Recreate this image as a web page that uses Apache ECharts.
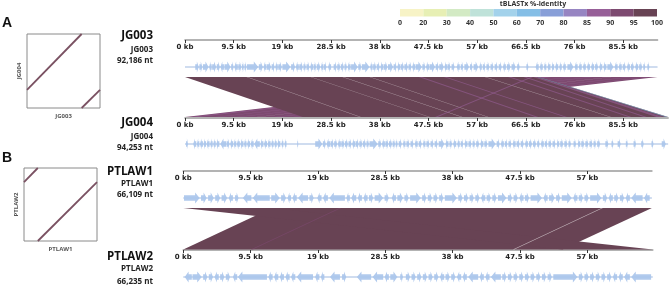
<!DOCTYPE html>
<html><head><meta charset="utf-8">
<script src="https://cdn.jsdelivr.net/npm/echarts@6/dist/echarts.min.js"></script>
<style>html,body{margin:0;padding:0;background:#fff}#c{width:669px;height:287px}</style>
</head><body><div id="c"></div>
<script>
// ---------------- DATA ----------------
const genomeNames = ['JG003', 'JG004', 'PTLAW1', 'PTLAW2'];
const genomeLengths = [92.186, 94.253, 66.109, 66.235]; // kb
const genomeLengthLabels = ['92,186 nt', '94,253 nt', '66,109 nt', '66,235 nt'];
const panelLabels = ['A', 'B'];
const rulerTicksA = [0, 9.5, 19, 28.5, 38, 47.5, 57, 66.5, 76, 85.5];
const rulerTicksB = [0, 9.5, 19, 28.5, 38, 47.5, 57];
const identityBreaks = [0, 20, 30, 40, 50, 60, 70, 80, 85, 90, 95, 100];
const identityColors = ['#f7f3c6', '#e7efb4', '#d3eac4', '#bfe2d9', '#a3d2eb', '#84bee6', '#889fd8', '#9785c2', '#975f98', '#7d4a70', '#684354'];
const legendTitle = 'tBLASTx %-identity';

// alignments: [queryStart, queryEnd, subjectStart, subjectEnd, %identity] (kb)
const alignA = [[69, 92.186, 0, 23, 91], [0, 69, 23, 94.253, 97]];
const streaksA2 = [[70, 71.5, 1, 2.5, 86], [75, 75.6, 6, 6.6, 87], [79, 79.6, 10, 10.6, 86], [83, 83.2, 14, 14.2, 0], [86.5, 87.2, 17.5, 18.2, 86], [90, 90.6, 21, 21.6, 86]];
const streaksA1 = [[12.0, 12.2, 34.1, 34.3, 0], [30.7, 30.9, 53.9, 54.1, 0], [45.6, 46.2, 68.3, 68.9, 88], [36.0, 36.18, 59.0, 59.18, 0], [58.5, 58.7, 82.9, 83.1, 0], [63.0, 63.6, 86.5, 87.1, 88], [66.0, 66.6, 89.5, 90.1, 88], [67.9, 68.6, 92.0, 93.3, 85], [68.7, 69, 93.7, 94.253, 65], [67.4, 67.9, 48.8, 49.3, 86], [50.5, 51.0, 74.0, 74.5, 89], [24.5, 24.65, 47.6, 47.75, 0]];
const alignB = [[12.5, 66.109, 0, 53.5, 97], [0, 12.5, 53.5, 66.235, 97]];
const streaksB = [[59.0, 59.2, 46.5, 46.7, 0], [22.0, 22.3, 9.5, 9.8, 93]];

// genes: [start, end, strand] (kb)
const genesJG003 = [[2.0,2.7,1],[2.8,3.4,1],[3.5,4.6,1],[4.7,5.2,-1],[5.3,6.1,1],[6.2,6.8,1],[6.9,7.6,-1],[7.7,8.9,1],[9.0,9.5,1],[9.6,10.3,-1],[10.4,11.0,1],[11.1,11.5,1],[11.6,12.0,1],[12.1,14.3,1],[14.4,15.2,1],[15.3,15.9,-1],[16.0,16.8,1],[16.9,17.5,1],[17.6,18.1,-1],[18.2,18.9,1],[19.0,20.6,1],[20.7,21.5,1],[21.6,22.2,-1],[22.3,23.0,1],[23.1,23.6,1],[23.7,24.3,1],[24.4,25.0,-1],[25.1,25.6,1],[25.7,26.4,1],[26.5,27.0,-1],[27.1,27.6,1],[27.9,28.5,-1],[29.0,29.6,1],[29.7,30.3,1],[30.4,31.0,1],[31.1,31.6,1],[31.7,32.3,-1],[32.4,33.7,1],[33.8,34.4,1],[34.5,36.0,1],[36.1,36.6,-1],[36.7,37.3,1],[37.4,38.0,1],[38.1,38.7,-1],[38.8,39.5,1],[39.6,40.6,1],[40.7,41.3,1],[41.4,42.0,-1],[42.1,42.7,1],[42.8,43.5,1],[43.6,44.2,1],[44.3,44.9,-1],[45.0,46.2,1],[46.3,46.9,1],[47.0,47.6,-1],[47.7,48.8,1],[48.9,49.5,1],[49.6,50.5,1],[50.6,51.1,-1],[51.2,51.8,1],[52.0,52.6,1],[53.0,53.6,-1],[53.8,54.3,1],[54.5,55.4,1],[55.6,56.1,1],[56.3,57.2,1],[57.4,57.9,-1],[58.1,58.6,1],[58.8,59.4,1],[59.6,60.2,1],[60.4,61.0,1],[61.2,61.8,1],[62.0,62.6,-1],[62.8,63.5,1],[63.7,64.5,1],[64.8,65.3,1],[66.6,67.0,1],[68.4,69.0,-1],[69.2,69.8,-1],[70.0,70.5,-1],[70.7,71.3,-1],[71.5,72.0,-1],[72.2,72.8,-1],[73.0,73.5,-1],[73.7,74.3,-1],[74.6,75.8,1],[76.0,76.6,-1],[76.8,77.4,-1],[77.6,78.2,-1],[78.4,79.0,-1],[79.2,79.8,-1],[80.0,80.6,1],[80.8,81.4,-1],[81.6,82.2,-1],[82.4,83.6,1],[83.8,84.4,-1],[84.6,85.2,-1],[85.4,86.0,1],[86.2,86.8,-1],[87.0,87.6,1],[87.8,88.4,-1],[88.6,89.2,1],[89.4,89.8,1],[90.2,90.6,1]];
const genesJG004 = [[0.2,0.6,1],[1.6,2.2,-1],[2.3,2.8,-1],[2.9,3.5,-1],[3.6,4.1,-1],[4.2,4.8,-1],[4.9,5.4,-1],[5.5,6.0,-1],[6.1,6.7,-1],[6.9,8.0,-1],[8.1,8.7,1],[8.8,9.4,-1],[9.5,10.0,-1],[10.1,10.7,-1],[10.8,11.4,-1],[11.5,12.0,-1],[12.1,12.7,-1],[12.8,13.4,-1],[13.5,14.6,-1],[14.7,15.3,-1],[15.4,16.0,-1],[16.1,16.7,-1],[16.8,17.3,-1],[17.4,17.9,-1],[18.0,18.6,-1],[18.8,19.2,-1],[19.4,19.8,-1],[21.9,22.1,1],[25.4,26.8,1],[26.9,27.5,1],[27.6,28.3,-1],[28.4,29.0,1],[29.1,29.7,1],[29.8,30.4,-1],[30.5,31.1,1],[31.2,31.8,1],[31.9,32.5,1],[32.6,33.2,-1],[33.3,33.9,1],[34.0,34.6,1],[34.7,35.3,1],[35.4,35.9,1],[36.0,37.6,1],[37.7,38.3,1],[38.4,39.0,-1],[39.1,39.7,1],[39.8,40.4,1],[40.5,41.0,1],[41.1,41.5,1],[41.7,42.3,1],[42.5,43.0,-1],[43.2,43.8,1],[44.0,44.6,1],[44.8,45.4,-1],[45.6,46.2,1],[46.4,46.9,-1],[47.1,47.7,1],[47.9,48.5,1],[48.7,49.3,1],[49.5,50.6,1],[50.8,51.4,-1],[51.6,52.1,1],[52.3,52.9,-1],[53.1,53.6,-1],[53.8,54.3,1],[54.5,55.1,-1],[55.3,55.9,1],[56.1,56.6,1],[56.8,57.4,1],[57.6,58.2,-1],[58.4,59.0,1],[59.2,60.6,1],[60.8,61.4,1],[61.6,62.2,-1],[62.4,62.9,1],[63.1,63.7,1],[63.9,64.5,-1],[64.7,65.3,1],[65.5,66.1,1],[66.3,66.9,-1],[67.1,67.7,1],[67.9,68.5,1],[68.7,69.2,1],[69.4,70.0,-1],[70.2,70.7,1],[70.9,71.5,1],[71.7,72.3,1],[72.5,73.0,-1],[73.2,73.8,1],[74.0,74.6,1],[74.8,75.3,1],[75.8,76.3,1],[76.6,77.1,-1],[77.3,77.9,1],[78.1,78.7,1],[78.9,79.5,1],[79.7,80.2,1],[80.4,81.0,1],[82.0,82.6,1],[83.2,83.6,1],[84.4,85.0,1],[86.0,86.4,1],[87.5,88.0,1],[89.0,89.5,1],[91.0,91.4,1],[93.0,93.8,1]];
const genesPTLAW1 = [[0.1,2.3,1],[2.5,3.3,1],[3.5,4.3,1],[4.5,5.2,1],[5.4,6.2,1],[6.4,7.0,-1],[7.3,7.8,1],[8.4,9.6,-1],[9.8,12.2,-1],[12.4,13.6,1],[13.8,14.5,1],[14.7,15.2,-1],[15.4,16.0,-1],[16.2,17.6,-1],[17.8,18.4,1],[18.9,19.5,-1],[19.7,20.4,-1],[20.6,22.8,-1],[23.0,23.5,-1],[23.7,24.4,-1],[24.6,25.2,-1],[25.4,26.0,-1],[26.2,26.8,1],[27.0,28.2,1],[28.4,29.0,1],[29.4,30.0,-1],[30.2,31.0,1],[31.2,31.8,1],[32.0,33.5,1],[33.7,34.3,1],[34.5,35.1,1],[35.3,35.9,1],[36.1,36.7,1],[36.9,38.6,1],[38.8,39.4,1],[39.6,40.2,1],[40.4,41.0,1],[41.2,41.8,1],[42.0,42.6,-1],[42.8,43.4,1],[43.6,44.2,1],[44.4,45.6,1],[45.8,46.4,1],[46.6,47.2,1],[47.4,48.0,-1],[48.2,48.8,1],[49.0,50.6,1],[50.8,51.4,-1],[51.6,52.4,1],[52.6,53.2,1],[53.4,54.8,1],[55.0,55.6,-1],[55.8,56.4,1],[56.6,57.2,1],[57.4,59.0,1],[59.2,59.8,1],[60.0,60.6,-1],[60.8,61.4,1],[61.6,62.2,1],[62.4,63.0,-1],[63.2,64.8,-1],[65.0,65.8,-1]];
const genesPTLAW2 = [[0.2,1.2,-1],[1.3,2.6,1],[2.8,3.4,1],[3.6,4.2,1],[4.4,5.0,-1],[5.2,5.8,1],[6.0,6.6,1],[7.0,7.6,-1],[7.7,11.8,-1],[12.0,12.6,-1],[12.8,13.4,-1],[13.6,14.2,-1],[14.4,15.0,-1],[15.2,15.8,-1],[16.0,18.3,-1],[18.6,19.2,-1],[19.4,19.9,-1],[20.7,22.1,-1],[22.4,23.0,1],[24.5,26.5,-1],[26.7,28.2,-1],[28.4,29.0,-1],[29.2,30.2,1],[30.6,31.0,1],[31.4,32.0,1],[32.2,32.8,1],[33.0,33.6,1],[33.8,34.4,1],[34.6,35.2,1],[35.4,36.0,1],[36.2,36.8,-1],[37.0,37.6,1],[37.8,38.4,1],[38.6,39.2,-1],[39.4,40.0,-1],[40.2,41.6,-1],[41.8,42.4,-1],[42.6,43.2,-1],[43.4,44.8,-1],[45.0,45.6,1],[45.8,46.4,1],[46.6,47.2,1],[47.4,48.0,1],[48.2,48.8,1],[49.0,49.6,1],[49.8,50.4,1],[50.6,51.2,1],[51.4,52.0,1],[52.2,55.6,1],[55.8,56.4,1],[56.6,57.2,1],[57.4,58.0,1],[58.2,58.8,1],[59.0,59.6,1],[59.8,60.4,1],[60.6,61.2,-1],[61.4,62.0,-1],[62.2,63.0,-1],[63.2,66.0,-1]];

// ---------------- LAYOUT ----------------
const scaleA = 5.126, leftA = 185;
const scaleB = 7.088, leftB = 183.3;
const GENE_FILL = '#aac6ec';

function colorFor(id) {
  if (id <= 0) return '#ffffff';
  for (let i = 0; i < identityBreaks.length - 1; i++) {
    if (id >= identityBreaks[i] && id < identityBreaks[i + 1]) return identityColors[i];
  }
  return identityColors[identityColors.length - 1];
}

const chart = echarts.init(document.getElementById('c'), null, {renderer: 'canvas'});

const grids = [], xAxes = [], yAxes = [], series = [];
function addGrid(g, x, y) {
  grids.push(Object.assign({outerBoundsMode: 'none', containLabel: false}, g));
  const idx = grids.length - 1;
  xAxes.push(Object.assign({gridIndex: idx}, x));
  yAxes.push(Object.assign({gridIndex: idx}, y));
  return idx;
}
const hiddenY = {type: 'value', min: 0, max: 1, show: false};

function rulerAxis(len, ticks) {
  return {
    type: 'value', min: 0, max: len, position: 'top',
    axisLine: {show: true, onZero: false, lineStyle: {color: '#9a9a9a', width: 1.6}},
    axisTick: {show: true, inside: true, length: 3, customValues: ticks, lineStyle: {color: '#333', width: 1}},
    axisLabel: {show: true, inside: true, margin: 4, customValues: ticks, formatter: v => v + ' kb',
      fontSize: 7, fontWeight: 'bold', fontFamily: 'DejaVu Sans', color: '#222'},
    splitLine: {show: false}
  };
}

function geneSeries(gi, genes, len, offset) {
  series.push({
    type: 'custom', xAxisIndex: gi, yAxisIndex: gi, silent: true, clip: false,
    data: [[0, len]],
    renderItem: (params, api) => {
      const x1 = api.coord([api.value(0), 0])[0], x2 = api.coord([api.value(1), 0])[0];
      const cy = params.coordSys.y + offset;
      return {type: 'line', shape: {x1, y1: cy, x2, y2: cy}, style: {stroke: '#9fb9e0', lineWidth: 1}};
    }
  });
  series.push({
    type: 'custom', xAxisIndex: gi, yAxisIndex: gi, silent: true, clip: false,
    data: genes,
    renderItem: (params, api) => {
      const s = api.value(0), e = api.value(1), st = api.value(2);
      const xs = api.coord([s, 0])[0], xe = api.coord([e, 0])[0];
      const cy = params.coordSys.y + offset;
      const hb = 2.8, hh = 5.5;
      const len = xe - xs;
      const head = Math.min(len * 0.55, 4.5);
      let pts;
      if (st > 0) {
        const xh = xe - head;
        pts = [[xs, cy - hb], [xh, cy - hb], [xh, cy - hh], [xe, cy], [xh, cy + hh], [xh, cy + hb], [xs, cy + hb]];
      } else {
        const xh = xs + head;
        pts = [[xe, cy - hb], [xh, cy - hb], [xh, cy - hh], [xs, cy], [xh, cy + hh], [xh, cy + hb], [xe, cy + hb]];
      }
      return {type: 'polygon', shape: {points: pts}, style: {fill: GENE_FILL, opacity: 0.92}};
    }
  });
}

function bandSeries(gi, aligns, opacity) {
  series.push({
    type: 'custom', xAxisIndex: gi, yAxisIndex: gi, silent: true, clip: false,
    data: aligns,
    renderItem: (params, api) => {
      const cs = params.coordSys;
      const q1 = api.coord([api.value(0), 0])[0], q2 = api.coord([api.value(1), 0])[0];
      const s1 = api.coord([api.value(2), 0])[0], s2 = api.coord([api.value(3), 0])[0];
      const top = cs.y, bot = cs.y + cs.height;
      const id = api.value(4);
      return {type: 'polygon', shape: {points: [[q1, top], [q2, top], [s2, bot], [s1, bot]]},
        style: {fill: colorFor(id), opacity: id <= 0 ? 0.6 : opacity}};
    }
  });
}

// ---- Panel A ----
const gA1 = addGrid({left: leftA, top: 40, width: genomeLengths[0] * scaleA, height: 30}, rulerAxis(genomeLengths[0], rulerTicksA), hiddenY);
const gA2 = addGrid({left: leftA, top: 118, width: genomeLengths[1] * scaleA, height: 30}, rulerAxis(genomeLengths[1], rulerTicksA), hiddenY);
const gAb = addGrid({left: leftA, top: 77, width: Math.max(genomeLengths[0], genomeLengths[1]) * scaleA, height: 40},
  {type: 'value', min: 0, max: Math.max(genomeLengths[0], genomeLengths[1]), show: false}, hiddenY);
bandSeries(gAb, [alignA[0]], 1);
bandSeries(gAb, streaksA2, 0.6);
bandSeries(gAb, [alignA[1]], 1);
bandSeries(gAb, streaksA1, 0.6);
geneSeries(gA1, genesJG003, genomeLengths[0], 27);
geneSeries(gA2, genesJG004, genomeLengths[1], 26);

// ---- Panel B ----
const gB1 = addGrid({left: leftB, top: 171, width: genomeLengths[2] * scaleB, height: 30}, rulerAxis(genomeLengths[2], rulerTicksB), hiddenY);
const gB2 = addGrid({left: leftB, top: 250, width: genomeLengths[3] * scaleB, height: 30}, rulerAxis(genomeLengths[3], rulerTicksB), hiddenY);
const gBb = addGrid({left: leftB, top: 208, width: Math.max(genomeLengths[2], genomeLengths[3]) * scaleB, height: 41.5},
  {type: 'value', min: 0, max: Math.max(genomeLengths[2], genomeLengths[3]), show: false}, hiddenY);
bandSeries(gBb, alignB, 1);
bandSeries(gBb, streaksB, 0.6);
geneSeries(gB1, genesPTLAW1, genomeLengths[2], 27);
geneSeries(gB2, genesPTLAW2, genomeLengths[3], 27);

// ---- Dot plots ----
function dotPlot(box, qi, si, aligns) {
  const nameStyle = {fontSize: 6, fontWeight: 'bold', color: '#555', fontFamily: 'Open Sans'};
  const gi = addGrid(Object.assign({show: true, borderColor: '#8a8a8a', borderWidth: 1, backgroundColor: '#fff'}, box),
    {type: 'value', min: 0, max: genomeLengths[qi], name: genomeNames[qi], nameLocation: 'middle', nameGap: 5, nameTextStyle: nameStyle,
      axisLine: {show: false}, axisTick: {show: false}, axisLabel: {show: false}, splitLine: {show: false}},
    {type: 'value', min: 0, max: genomeLengths[si], name: genomeNames[si], nameLocation: 'middle', nameGap: 5, nameTextStyle: nameStyle,
      axisLine: {show: false}, axisTick: {show: false}, axisLabel: {show: false}, splitLine: {show: false}});
  aligns.forEach(a => {
    series.push({type: 'line', xAxisIndex: gi, yAxisIndex: gi, symbol: 'none', silent: true,
      data: [[a[0], a[2]], [a[1], a[3]]], lineStyle: {color: '#7a5162', width: 1.8}});
  });
}
dotPlot({left: 27, top: 34, width: 73, height: 74}, 0, 1, alignA);
dotPlot({left: 24, top: 168, width: 73, height: 73}, 2, 3, alignB);

// ---- Identity legend ----
const gL = addGrid({left: 400, top: 9, width: 257, height: 7.5},
  {type: 'value', min: 0, max: identityColors.length, position: 'bottom',
    axisLine: {show: false, onZero: false}, axisTick: {show: false}, splitLine: {show: false},
    axisLabel: {show: true, margin: 3, customValues: identityBreaks.map((b, i) => i), formatter: v => identityBreaks[v],
      fontSize: 7, fontWeight: 'bold', fontFamily: 'Open Sans', color: '#333'}},
  hiddenY);
series.push({
  type: 'custom', xAxisIndex: gL, yAxisIndex: gL, silent: true,
  data: identityColors.map((c, i) => [i, i + 1]),
  renderItem: (params, api) => {
    const p1 = api.coord([api.value(0), 1]), p2 = api.coord([api.value(1), 0]);
    return {type: 'rect', shape: {x: p1[0], y: p1[1], width: p2[0] - p1[0], height: p2[1] - p1[1]},
      style: {fill: identityColors[params.dataIndex]}};
  }
});

// ---- Texts ----
const labelFont = 'Open Sans';
const nameRows = [[36, 50, 61], [123, 137, 148], [172, 184, 195], [257, 269, 282]];
const graphics = [];
genomeNames.forEach((n, i) => {
  const r = nameRows[i];
  graphics.push({type: 'text', x: 153, y: r[0], style: {text: n, align: 'right', verticalAlign: 'middle', font: 'bold 11.5px ' + labelFont, fill: '#111'}});
  graphics.push({type: 'text', x: 153, y: r[1], style: {text: n, align: 'right', verticalAlign: 'middle', font: 'bold 8px ' + labelFont, fill: '#222'}});
  graphics.push({type: 'text', x: 153, y: r[2], style: {text: genomeLengthLabels[i], align: 'right', verticalAlign: 'middle', font: 'bold 8px ' + labelFont, fill: '#222'}});
});
graphics.push({type: 'text', x: 2, y: 23, style: {text: panelLabels[0], align: 'left', verticalAlign: 'middle', font: 'bold 14px Liberation Sans', fill: '#111'}});
graphics.push({type: 'text', x: 2, y: 158, style: {text: panelLabels[1], align: 'left', verticalAlign: 'middle', font: 'bold 14px Liberation Sans', fill: '#111'}});
graphics.push({type: 'text', x: 533, y: 4, style: {text: legendTitle, align: 'center', verticalAlign: 'middle', font: 'bold 7px Open Sans', fill: '#333'}});

chart.setOption({
  animation: false,
  backgroundColor: '#fff',
  grid: grids, xAxis: xAxes, yAxis: yAxes, series: series,
  graphic: graphics
});
</script></body></html>
